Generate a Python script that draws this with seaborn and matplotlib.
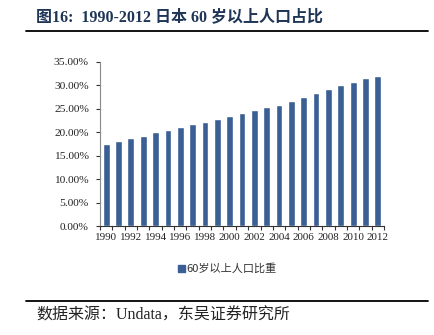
import matplotlib
matplotlib.use("Agg")
import matplotlib.pyplot as plt
import seaborn as sns
import pandas as pd
import numpy as np
from matplotlib.ticker import FuncFormatter, FixedLocator

years = list(range(1990, 2013))
share = [17.5, 18.2, 18.8, 19.3, 20.0, 20.5, 21.1, 21.7, 22.3, 22.8, 23.5,
         24.1, 24.7, 25.3, 25.9, 26.7, 27.5, 28.4, 29.3, 30.1, 30.8, 31.5, 32.1]
series_name = "60岁以上人口比重"
title_text = "图16:  1990-2012 日本 60 岁以上人口占比"
source_text = "数据来源：Undata，东吴证券研究所"
yticks = [0, 5, 10, 15, 20, 25, 30, 35]

sns.set_style("white")
plt.rcParams['font.family'] = ['Liberation Serif', 'Noto Sans CJK SC', 'DejaVu Sans']

df = pd.DataFrame({"year": [str(y) for y in years], "share": share, "s": series_name})

fig = plt.figure(figsize=(4.35, 3.35), dpi=100)
ax = fig.add_axes([100/435, 1 - 226/335, (384-100)/435, (226-62)/335])

bar_color = "#3a5f94"
sns.barplot(data=df, x="year", y="share", hue="s", palette=[bar_color],
            width=0.55, ax=ax, legend=False, saturation=1)

ax.set_ylim(0, 35)
ax.set_xlim(-0.5, len(years) - 0.5)
ax.yaxis.set_major_locator(FixedLocator(yticks))
ax.yaxis.set_major_formatter(FuncFormatter(lambda v, p: f"{v:.2f}%"))
ax.tick_params(axis="y", which="both", direction="out", length=3, width=0.8,
               labelsize=8.2, color="#333333", left=True, pad=5, labelcolor="#222222")

# x labels every 2 years, ticks at category boundaries
ax.set_xticks(range(0, len(years), 2))
ax.set_xticklabels([str(y) for y in years[::2]])
ax.tick_params(axis="x", which="major", length=0, labelsize=7.9, pad=5, labelcolor="#222222")
ax.set_xticks(np.arange(-0.5, len(years), 1.0), minor=True)
ax.tick_params(axis="x", which="minor", direction="out", length=3, width=0.8,
               color="#333333", bottom=True)

ax.set_xlabel("")
ax.set_ylabel("")
for side in ["top", "right"]:
    ax.spines[side].set_visible(False)
ax.spines["left"].set_color("#888888")
ax.spines["bottom"].set_color("#333333")
ax.spines["left"].set_linewidth(0.8)
ax.spines["bottom"].set_linewidth(0.8)

# Legend
fig.patches.append(plt.Rectangle((178/435, 1 - 272/335), 7/435, 7/335,
                                 transform=fig.transFigure, color=bar_color))
fig.text(186/435, 1 - 268/335, series_name, fontsize=8, va="center", ha="left",
         family=['Noto Sans CJK SC', 'DejaVu Sans'], color="#333333")

# Title
fig.text(36/435, 1 - 17/335, title_text, fontsize=11.5, fontweight="bold",
         color="#1f3556", va="center", ha="left",
         family=['Liberation Serif', 'Noto Sans CJK SC'])
fig.add_artist(plt.Line2D([26/435, 428/435], [1 - 31/335, 1 - 31/335],
                          transform=fig.transFigure, color="black", lw=1.3))
fig.add_artist(plt.Line2D([26/435, 428/435], [1 - 301/335, 1 - 301/335],
                          transform=fig.transFigure, color="black", lw=1.3))
fig.text(36/435, 1 - 316/335, source_text, fontsize=11.5, color="#222222",
         va="center", ha="left", family=['Liberation Serif', 'Noto Sans CJK SC'])

fig.savefig("out.png", dpi=100)
